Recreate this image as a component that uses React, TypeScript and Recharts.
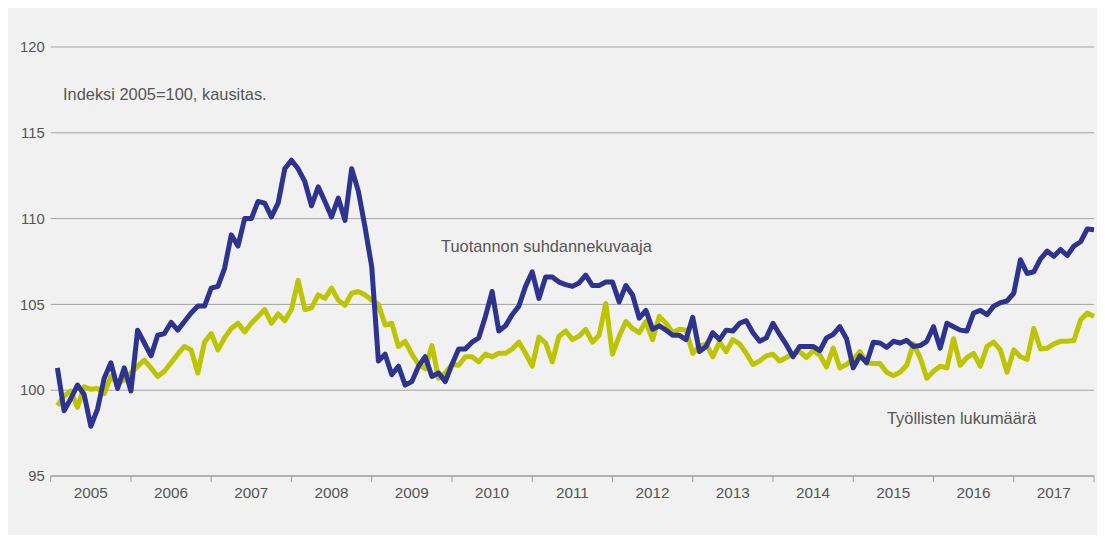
import { LineChart, Line, XAxis, YAxis, CartesianGrid } from "recharts";

const years = ["2005", "2006", "2007", "2008", "2009", "2010", "2011", "2012", "2013", "2014", "2015", "2016", "2017"];
const yTicks = [95, 100, 105, 110, 115, 120];

// Tuotannon suhdannekuvaaja, monthly 2005-2017
const tuotanto = [
  101.3, 98.8, 99.5, 100.3, 99.75, 97.9, 98.9, 100.7, 101.6, 100.1, 101.3, 99.95,
  103.5, 102.75, 102.0, 103.2, 103.3, 103.95, 103.5, 104.0, 104.5, 104.9, 104.9, 105.95,
  106.05, 107.1, 109.05, 108.4, 110.0, 110.0, 111.0, 110.9, 110.1, 110.9, 112.9, 113.4,
  112.9, 112.15, 110.75, 111.85, 111.0, 110.1, 111.2, 109.9, 112.9, 111.6, 109.5, 107.2,
  101.7, 102.1, 100.9, 101.4, 100.3, 100.5, 101.4, 101.95, 100.8, 101.0, 100.5, 101.5,
  102.4, 102.4, 102.8, 103.05, 104.3, 105.75, 103.45, 103.75, 104.4, 104.9, 106.05, 106.9,
  105.35, 106.6, 106.6, 106.3, 106.15, 106.05, 106.25, 106.7, 106.1, 106.1, 106.3, 106.3,
  105.15, 106.1, 105.55, 104.2, 104.65, 103.55, 103.75, 103.5, 103.2, 103.2, 102.95, 104.25,
  102.25, 102.55, 103.35, 102.95, 103.5, 103.45, 103.9, 104.05, 103.35, 102.85, 103.05, 103.9,
  103.25, 102.65, 101.95, 102.55, 102.55, 102.55, 102.3, 103.05, 103.25, 103.7, 103.0, 101.3,
  102.0, 101.6, 102.8, 102.75, 102.5, 102.85, 102.75, 102.9, 102.55, 102.6, 102.85, 103.7,
  102.45, 103.9, 103.7, 103.5, 103.45, 104.5, 104.65, 104.4, 104.9, 105.1, 105.2, 105.65,
  107.6, 106.8, 106.9, 107.65, 108.1, 107.8, 108.2, 107.85, 108.4, 108.65, 109.4, 109.35,
];

// Työllisten lukumäärä
const tyolliset = [
  99.1, 99.65, 99.95, 99.0, 100.2, 100.05, 100.1, 99.8, 100.8, 100.4, 100.6, 101.0,
  101.4, 101.75, 101.3, 100.8, 101.1, 101.6, 102.1, 102.55, 102.35, 101.0, 102.8, 103.3,
  102.35, 103.05, 103.6, 103.9, 103.4, 103.9, 104.3, 104.7, 103.9, 104.45, 104.05, 104.7,
  106.4, 104.7, 104.8, 105.55, 105.35, 105.95, 105.25, 104.95, 105.65, 105.75, 105.55, 105.25,
  105.0, 103.8, 103.9, 102.55, 102.85, 102.1, 101.5, 101.25, 102.6, 100.7, 101.0, 101.5,
  101.45, 101.95, 101.95, 101.65, 102.1, 101.95, 102.15, 102.15, 102.4, 102.8, 102.15, 101.4,
  103.1, 102.75, 101.65, 103.15, 103.45, 102.95, 103.15, 103.55, 102.8, 103.2, 105.05, 102.1,
  103.15, 104.0, 103.6, 103.35, 104.0, 102.95, 104.3, 103.9, 103.35, 103.55, 103.5, 102.15,
  102.55, 102.7, 101.95, 102.8, 102.25, 102.95, 102.7, 102.15, 101.5, 101.7, 102.0, 102.1,
  101.7, 101.9, 102.15, 102.25, 101.9, 102.3, 102.05, 101.35, 102.45, 101.3, 101.5, 101.8,
  102.25, 101.6, 101.55, 101.55, 101.05, 100.85, 101.05, 101.45, 102.7, 101.9, 100.7, 101.1,
  101.4, 101.3, 103.0, 101.45, 101.9, 102.15, 101.4, 102.55, 102.8, 102.35, 101.05, 102.35,
  101.95, 101.8, 103.6, 102.4, 102.45, 102.7, 102.85, 102.85, 102.9, 104.1, 104.5, 104.3,
];

const data = tuotanto.map((v, i) => ({ t: i + 1, tuotanto: v, tyolliset: tyolliset[i] }));
const xTicks = Array.from({ length: years.length * 2 + 1 }, (_, i) => i * 6);

const FONT = "Arial, 'Liberation Sans', sans-serif";
const TEXT = "#555";

const YearTick = (props: any) => {
  const { x, y, payload } = props;
  const v = payload.value;
  if (v % 12 === 0) {
    return <line x1={x} x2={x} y1={y} y2={y + 6} stroke="#9a9a9a" strokeWidth={1} />;
  }
  return (
    <text x={x} y={y + 16} textAnchor="middle" dominantBaseline="central" fill={TEXT} fontSize={15.3} fontFamily={FONT}>
      {years[(v - 6) / 12]}
    </text>
  );
};

const note = { position: "absolute" as const, color: TEXT, fontFamily: FONT, fontSize: 16.4, lineHeight: "18px", whiteSpace: "nowrap" as const };

export default function App() {
  return (
    <div style={{ position: "relative", width: 1097, height: 527, background: "#f1f1f1" }}>
      <LineChart width={1097} height={527} data={data} margin={{ top: 39, right: 11, bottom: 29, left: 0 }}>
        <CartesianGrid horizontal vertical={false} stroke="#a3a3a3" strokeWidth={1} />
        <XAxis
          dataKey="t"
          type="number"
          domain={[0, 156]}
          ticks={xTicks}
          interval={0}
          tick={<YearTick />}
          tickLine={false}
          tickSize={0}
          tickMargin={0}
          axisLine={{ stroke: "#9a9a9a" }}
          height={30}
        />
        <YAxis
          domain={[95, 120]}
          ticks={yTicks}
          width={42.7}
          axisLine={false}
          tickLine={false}
          tickSize={0}
          tickMargin={6}
          tick={{ fill: TEXT, fontSize: 14.8, fontFamily: FONT }}
        />
        <Line type="linear" dataKey="tyolliset" stroke="#bec400" strokeWidth={5} dot={false} strokeLinejoin="round" isAnimationActive={false} />
        <Line type="linear" dataKey="tuotanto" stroke="#2c3490" strokeWidth={5} dot={false} strokeLinejoin="round" isAnimationActive={false} />
      </LineChart>
      <div style={{ ...note, left: 55, top: 77 }}>Indeksi 2005=100, kausitas.</div>
      <div style={{ ...note, left: 433, top: 229 }}>Tuotannon suhdannekuvaaja</div>
      <div style={{ ...note, left: 879, top: 401 }}>Työllisten lukumäärä</div>
    </div>
  );
}
